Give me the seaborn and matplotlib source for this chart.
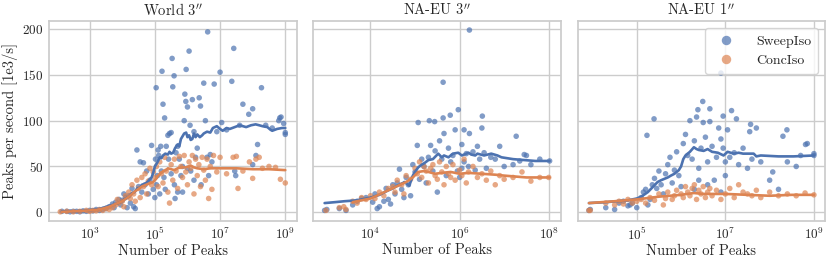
import numpy as np
import pandas as pd
import matplotlib
matplotlib.use("Agg")
import matplotlib.pyplot as plt
from matplotlib.ticker import FixedLocator, LogFormatterMathtext
import seaborn as sns

# ---------------- data (log10 of number of peaks, peaks per second [1e3/s]) -------------
panels = ["World 3$''$", "NA-EU 3$''$", "NA-EU 1$''$"]
methods = ["SweepIso", "ConcIso"]

w3_sweep_logn = [2.15, 2.3, 2.4, 2.5, 2.6, 2.7, 2.8, 2.9, 3.0, 3.1, 3.2, 3.3, 3.4, 3.5, 3.6,
                 3.7, 3.75, 3.8, 3.9, 3.95, 4.0, 4.05, 4.1, 4.15, 4.2, 4.25, 4.3, 4.35, 4.4, 4.45,
                 4.5, 4.55, 4.6, 4.65, 4.7, 4.75, 4.8, 4.85, 4.9, 4.95,
                 5.0, 5.02, 5.04, 5.08, 5.1, 5.12, 5.15, 5.18, 5.22, 5.25, 5.28, 5.3, 5.32, 5.35,
                 5.4, 5.42, 5.45, 5.5, 5.53, 5.55, 5.59, 5.6, 5.62, 5.65, 5.7, 5.75, 5.8, 5.85,
                 5.9, 5.92, 5.95, 5.96, 6.0, 6.05, 6.08, 6.1, 6.15, 6.2, 6.25, 6.3, 6.36, 6.4,
                 6.42, 6.5, 6.55, 6.6, 6.62, 6.65, 6.7, 6.75, 6.82, 6.9, 7.0, 7.05,
                 7.2, 7.36, 7.42, 7.45, 7.48, 7.6, 7.7, 7.88, 8.0, 8.0, 8.1, 8.15, 8.27, 8.4,
                 8.6, 8.8, 8.83, 8.87, 8.95, 9.0, 9.0,
                 5.05, 5.2, 5.5, 5.7, 6.0, 6.2, 5.85]
w3_sweep_pps = [1, 1, 0.5, 1, 1, 0.5, 1.5, 1, 2, 1.5, 3, 2, 3, 4, 6,
                9, 5, 11, 14, 8, 13, 20, 16, 5, 18, 10, 26, 6, 4, 68,
                28, 55, 22, 54, 30, 45, 20, 35, 73, 25,
                16, 58, 136, 40, 68, 62, 20, 72, 154, 118, 38, 103, 25, 72,
                84, 58, 86, 87, 168, 137, 149, 30, 15, 65, 72, 58, 40, 22,
                100, 129, 121, 156, 115, 176, 95, 45, 123, 88, 60, 70, 125, 116,
                30, 141, 100, 60, 197, 40, 63, 55, 140, 88, 153, 98,
                90, 143, 179, 45, 40, 95, 118, 107, 113, 52, 62, 74, 136, 95,
                92, 100, 103, 104, 97, 85, 87,
                30, 45, 42, 22, 48, 35, 50]

w3_conc_logn = [2.1, 2.3, 2.5, 2.7, 2.9, 3.0, 3.1, 3.2, 3.3, 3.4,
                3.5, 3.6, 3.7, 3.8, 3.85, 3.9, 4.0, 4.05, 4.1, 4.2, 4.25, 4.3, 4.35, 4.4, 4.45,
                4.5, 4.55, 4.6, 4.65, 4.7, 4.75, 4.8, 4.85, 4.9, 4.95,
                5.0, 5.05, 5.1, 5.15, 5.2, 5.25, 5.3, 5.35, 5.4, 5.45, 5.5, 5.55, 5.6, 5.65,
                5.7, 5.75, 5.8, 5.85, 5.9, 5.95, 6.0, 6.05, 6.1, 6.15, 6.2, 6.25, 6.3, 6.35,
                6.4, 6.45, 6.5, 6.55, 6.6, 6.65, 6.7, 6.75, 6.8, 6.9, 7.0,
                7.2, 7.4, 7.5, 7.55, 7.7, 7.9, 8.0, 8.1, 8.2, 8.3, 8.5, 8.7, 8.85, 9.0]
w3_conc_pps = [0.5, 1, 0.5, 1, 2, 1, 2, 1.5, 3, 2,
               4, 3, 5, 8, 14, 10, 12, 6, 18, 22, 15, 30, 20, 12, 35,
               26, 16, 38, 28, 42, 20, 34, 48, 30, 44,
               38, 50, 28, 55, 42, 32, 60, 45, 22, 10, 52, 35, 58, 45,
               26, 61, 50, 38, 62, 44, 30, 55, 48, 62, 20, 58, 40, 52,
               28, 60, 46, 35, 58, 15, 50, 25, 62, 44, 60,
               42, 60, 61, 26, 45, 55, 37, 58, 60, 48, 50, 49, 36, 32]

w3_sweep_trend_logn = [2.15, 2.5, 2.8, 3.0, 3.2, 3.34, 3.6, 3.8, 3.95, 4.1, 4.2, 4.3, 4.38, 4.46,
                       4.55, 4.6, 4.7, 4.77, 4.85, 4.9, 4.95, 5.0, 5.07, 5.1, 5.15, 5.2, 5.25,
                       5.32, 5.4, 5.45, 5.5, 5.56, 5.62, 5.7, 5.75, 5.8, 5.9, 5.96, 6.0, 6.05,
                       6.1, 6.15, 6.2, 6.25, 6.3, 6.38, 6.45, 6.5, 6.6, 6.7, 6.78, 6.9, 7.0,
                       7.08, 7.2, 7.3, 7.45, 7.6, 7.7, 7.8, 7.95, 8.09, 8.2, 8.3, 8.45, 8.55,
                       8.6, 8.75, 8.9, 9.0]
w3_sweep_trend_pps = [1, 1, 1.5, 2, 3, 4, 7, 9, 11, 15, 17, 21, 22, 26,
                      27, 30, 31, 33, 36, 38, 43, 50, 54, 56, 60, 59, 62,
                      64, 63, 66, 64, 65, 70, 74, 72, 80, 86, 87, 82, 84,
                      79, 80, 86, 82, 85, 82, 84, 86, 88, 87, 92, 94, 91,
                      89, 92, 91, 93, 95, 94, 93, 95, 96, 95, 94, 93, 90,
                      89, 91, 92, 92]
w3_conc_trend_logn = [2.15, 2.5, 2.8, 3.0, 3.2, 3.4, 3.6, 3.8, 4.0, 4.2, 4.4, 4.6, 4.8, 4.95,
                      5.05, 5.1, 5.2, 5.26, 5.35, 5.4, 5.5, 5.6, 5.7, 5.8, 5.96, 6.1, 6.2,
                      6.3, 6.5, 6.7, 7.0, 7.5, 8.0, 8.5, 9.0]
w3_conc_trend_pps = [0.5, 1, 1.5, 2, 2.5, 4, 6, 9, 12, 17, 23, 28, 31, 33,
                     37, 40, 43, 45, 46, 48, 47, 46, 48, 49, 49, 51, 49,
                     48, 47, 48, 48, 48, 47, 47, 46]

na3_sweep_logn = [2.97, 3.02, 3.3, 3.45, 3.6, 3.7, 3.8, 3.9, 4.05, 4.1, 4.15, 4.2, 4.3, 4.35,
                  4.4, 4.45, 4.5, 4.55, 4.6, 4.65, 4.7, 4.75, 4.8, 4.85, 4.9, 4.95, 5.0, 5.05,
                  5.1, 5.15, 5.2, 5.25, 5.3, 5.35, 5.4, 5.45, 5.5, 5.55, 5.6, 5.63, 5.65, 5.7,
                  5.75, 5.8, 5.85, 5.9, 5.95, 6.0, 6.05, 6.1, 6.15, 6.2, 6.22, 6.3, 6.35, 6.4,
                  6.45, 6.5, 6.55, 6.6, 6.7, 6.8, 6.9, 7.0, 7.2, 7.35, 7.5, 7.6, 7.8, 8.02,
                  5.07, 5.32, 5.44, 5.63, 5.79, 5.97, 6.51, 6.22, 7.27, 7.45, 6.1, 6.05]
na3_sweep_pps = [2, 3, 4, 2, 8, 12, 15, 16, 11, 20, 4, 6, 12, 26,
                 14, 9, 30, 20, 32, 47, 25, 16, 38, 30, 18, 52, 44, 73,
                 36, 58, 50, 32, 60, 73, 45, 67, 22, 78, 58, 142, 86, 40,
                 70, 55, 62, 90, 45, 38, 74, 55, 64, 50, 199, 66, 46, 72,
                 58, 92, 65, 48, 60, 58, 72, 50, 52, 56, 62, 52, 58, 56,
                 98, 100, 99, 103, 106, 112, 105, 86, 83, 63, 90, 48]

na3_conc_logn = [3.0, 3.3, 3.4, 3.45, 3.6, 3.7, 3.8, 3.9, 4.0, 4.1, 4.2, 4.3, 4.4, 4.5, 4.55,
                 4.6, 4.7, 4.75, 4.8, 4.9, 5.0, 5.05, 5.1, 5.15, 5.2, 5.25, 5.3, 5.35, 5.4,
                 5.45, 5.5, 5.55, 5.6, 5.65, 5.7, 5.75, 5.8, 5.85, 5.9, 6.0, 6.05, 6.1, 6.15,
                 6.2, 6.3, 6.4, 6.5, 6.6, 6.7, 6.8, 6.9, 7.0, 7.2, 7.4, 7.6, 7.8, 8.0]
na3_conc_pps = [2, 5, 6, 3, 12, 10, 16, 14, 18, 15, 22, 18, 26, 28, 22,
                35, 30, 20, 40, 36, 48, 42, 55, 38, 50, 45, 32, 48, 52,
                40, 36, 55, 44, 30, 50, 42, 38, 52, 35, 46, 40, 58, 32,
                44, 50, 38, 42, 35, 45, 30, 40, 36, 38, 44, 34, 38, 38]

na3_sweep_trend_logn = [2.97, 3.2, 3.41, 3.7, 4.0, 4.2, 4.4, 4.5, 4.6, 4.7, 4.76, 4.82, 4.87,
                        4.95, 5.0, 5.07, 5.15, 5.22, 5.3, 5.4, 5.46, 5.52, 5.6, 5.65, 5.75,
                        5.85, 5.97, 6.05, 6.1, 6.2, 6.26, 6.35, 6.4, 6.55, 6.71, 6.85, 6.94,
                        7.2, 7.45, 7.7, 8.02]
na3_sweep_trend_pps = [10, 11, 12, 13, 16, 19, 24, 26, 29, 31, 33, 31, 29,
                       40, 44, 49, 52, 54, 57, 58, 61, 64, 60, 62, 60,
                       64, 65, 62, 63, 65, 63, 62, 64, 62, 64, 62, 60,
                       58, 57, 56, 56]
na3_conc_trend_logn = [3.6, 4.0, 4.4, 4.8, 4.95, 5.07, 5.2, 5.3, 5.45, 5.6, 5.8, 6.0, 6.2,
                       6.5, 6.8, 7.0, 7.5, 8.02]
na3_conc_trend_pps = [11, 15, 24, 33, 38, 44, 45, 44, 42, 43, 44, 42, 43,
                      42, 41, 40, 38, 38]

na1_sweep_logn = [3.92, 3.95, 4.3, 4.5, 4.6, 4.7, 4.8, 4.85, 4.9, 5.0, 5.1, 5.15, 5.2, 5.25,
                  5.3, 5.35, 5.4, 5.45, 5.5, 5.55, 5.6, 5.65, 5.7, 5.75, 5.8, 5.85, 5.9, 5.95,
                  6.0, 6.05, 6.1, 6.15, 6.2, 6.25, 6.3, 6.35, 6.4, 6.45, 6.5, 6.55, 6.6, 6.65,
                  6.7, 6.75, 6.8, 6.85, 6.9, 6.95, 7.0, 7.05, 7.1, 7.2, 7.25, 7.3, 7.4, 7.5,
                  7.55, 7.6, 7.7, 7.8, 8.0, 8.2, 8.3, 8.4, 8.6, 8.7, 8.85, 9.0, 9.0,
                  6.4, 6.3, 6.6, 7.0, 6.9, 6.9, 6.49, 6.38, 6.65, 7.14, 6.95, 7.57, 8.39,
                  8.81, 8.07, 5.23, 5.39]
na1_sweep_pps = [2, 3, 5, 3, 10, 12, 7, 8, 10, 5, 16, 22, 25, 8,
                 14, 30, 37, 26, 45, 30, 20, 42, 52, 60, 32, 46, 66, 40,
                 28, 75, 85, 62, 100, 58, 78, 104, 48, 70, 98, 82, 55, 99,
                 72, 35, 60, 92, 80, 70, 55, 90, 60, 65, 102, 52, 70, 48,
                 88, 58, 92, 55, 35, 25, 83, 55, 50, 62, 75, 62, 64,
                 35, 25, 30, 40, 22, 152, 121, 112, 113, 111, 105, 96, 90,
                 74, 44, 84, 102]

na1_conc_logn = [3.92, 3.95, 4.3, 4.5, 4.6, 4.7, 4.8, 4.9, 5.0, 5.1, 5.2, 5.3, 5.4, 5.5, 5.6,
                 5.65, 5.7, 5.8, 5.85, 5.9, 6.0, 6.05, 6.1, 6.15, 6.2, 6.25, 6.3, 6.35, 6.4,
                 6.45, 6.5, 6.55, 6.6, 6.65, 6.7, 6.8, 6.9, 7.0, 7.1, 7.2, 7.3, 7.4, 7.5,
                 7.6, 7.7, 7.8, 8.0, 8.2, 8.4, 8.6, 8.8, 9.0]
na1_conc_pps = [2, 2, 10, 8, 12, 9, 14, 10, 12, 14, 10, 16, 13, 20, 8,
                15, 22, 14, 18, 24, 20, 16, 28, 22, 18, 26, 30, 14, 24,
                20, 28, 16, 22, 26, 18, 24, 14, 20, 26, 16, 30, 22, 20,
                18, 24, 16, 22, 18, 20, 18, 21, 19]

na1_sweep_trend_logn = [3.92, 4.3, 4.8, 5.0, 5.1, 5.25, 5.35, 5.47, 5.55, 5.6, 5.7, 5.77, 5.85,
                        5.95, 6.0, 6.05, 6.1, 6.2, 6.29, 6.35, 6.4, 6.51, 6.6, 6.7, 6.83,
                        6.96, 7.05, 7.19, 7.3, 7.4, 7.64, 7.7, 7.8, 8.2, 8.54, 9.0]
na1_sweep_trend_pps = [10, 11, 13, 15, 17, 22, 27, 33, 35, 36, 38, 40, 42,
                       46, 50, 58, 62, 66, 71, 69, 68, 67, 69, 66, 65,
                       62, 66, 64, 65, 64, 64, 61, 62, 61, 61, 62]
na1_conc_trend_logn = [3.92, 4.5, 5.0, 5.5, 6.0, 6.29, 6.5, 7.0, 7.5, 8.0, 8.5, 9.0]
na1_conc_trend_pps = [10, 12, 14, 17, 19, 21, 20, 20, 19, 18, 19, 19]

scatter_sets = [
    (w3_sweep_logn, w3_sweep_pps, w3_conc_logn, w3_conc_pps),
    (na3_sweep_logn, na3_sweep_pps, na3_conc_logn, na3_conc_pps),
    (na1_sweep_logn, na1_sweep_pps, na1_conc_logn, na1_conc_pps),
]
trend_sets = [
    (w3_sweep_trend_logn, w3_sweep_trend_pps, w3_conc_trend_logn, w3_conc_trend_pps),
    (na3_sweep_trend_logn, na3_sweep_trend_pps, na3_conc_trend_logn, na3_conc_trend_pps),
    (na1_sweep_trend_logn, na1_sweep_trend_pps, na1_conc_trend_logn, na1_conc_trend_pps),
]
xticks_sets = [[1e3, 1e5, 1e7, 1e9], [1e4, 1e6, 1e8], [1e5, 1e7, 1e9]]


def frame(sx, sy, cx, cy):
    return pd.concat([
        pd.DataFrame({"peaks": 10 ** np.array(sx, float), "pps": sy, "method": methods[0]}),
        pd.DataFrame({"peaks": 10 ** np.array(cx, float), "pps": cy, "method": methods[1]}),
    ], ignore_index=True)


# ---------------- style -------------
sns.set_theme(style="whitegrid")
plt.rcParams["font.family"] = ["cmr10", "DejaVu Serif"]
plt.rcParams["mathtext.fontset"] = "cm"
plt.rcParams["axes.formatter.use_mathtext"] = True
plt.rcParams["axes.unicode_minus"] = False

palette = dict(zip(methods, sns.color_palette("deep")[:2]))

fig, axes = plt.subplots(1, 3, figsize=(8.31, 2.62), dpi=100, sharey=True)
fig.subplots_adjust(left=0.059, right=0.993, bottom=0.157, top=0.92, wspace=0.068)

for i, ax in enumerate(axes):
    df = frame(*scatter_sets[i])
    sns.scatterplot(data=df, x="peaks", y="pps", hue="method", hue_order=methods,
                    palette=palette, alpha=0.7, s=16, linewidth=0, ax=ax,
                    legend=(i == 2))
    tdf = frame(*trend_sets[i])
    sns.lineplot(data=tdf, x="peaks", y="pps", hue="method", hue_order=methods,
                 palette=palette, linewidth=1.9, ax=ax, legend=False,
                 estimator=None, sort=True)
    ax.set_xscale("log")
    ax.xaxis.set_major_locator(FixedLocator(xticks_sets[i]))
    ax.xaxis.set_major_formatter(LogFormatterMathtext())
    ax.xaxis.set_minor_locator(FixedLocator([]))
    ax.set_title(panels[i], fontsize=10.5, pad=4)
    ax.set_xlabel("Number of Peaks", fontsize=10.5, labelpad=1)
    ax.set_ylabel("Peaks per second [1e3/s]" if i == 0 else "", fontsize=10.5, labelpad=3)
    ax.tick_params(axis="both", labelsize=9.5, length=0, pad=4)

axes[0].set_yticks([0, 50, 100, 150, 200])

leg = axes[2].legend(loc="upper right", fontsize=10, markerscale=1.7,
                     handletextpad=1.2, borderpad=0.5, labelspacing=0.5, frameon=True)
leg.set_title(None)

fig.savefig("out.png", dpi=100)
